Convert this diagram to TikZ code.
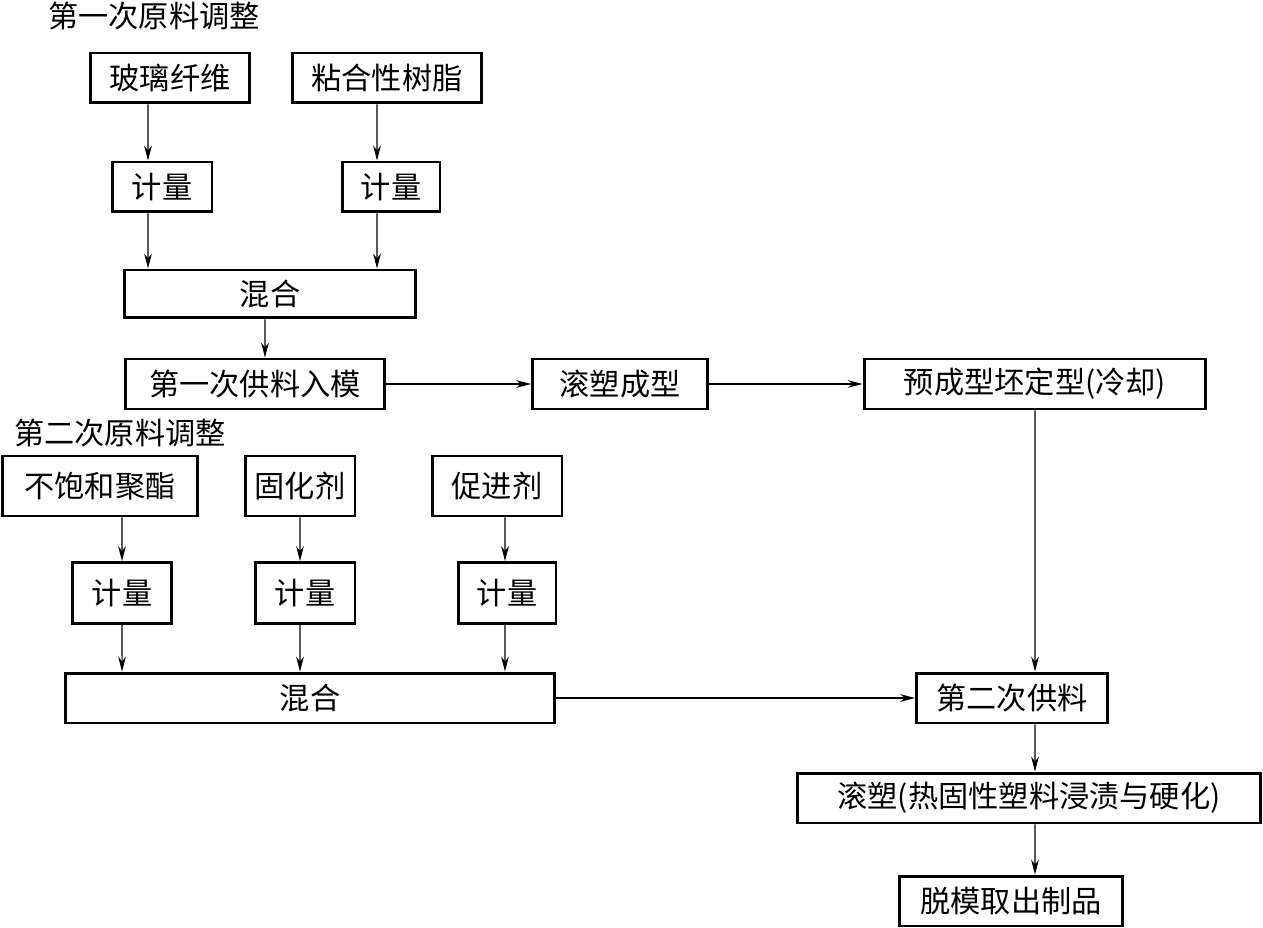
\documentclass[tikz,border=0pt]{standalone}
\usepackage{fontspec}
\setmainfont{Noto Sans CJK SC}
\usetikzlibrary{arrows.meta}

\begin{document}
\begin{tikzpicture}[x=0.02cm,y=-0.02cm,
	box/.style={ draw, line width=1.7pt, inner sep=0pt, minimum height=1.0cm, font=\fontsize{17.2}{20}\selectfont },
	title/.style={ inner sep=0pt, font=\fontsize{17.2}{20}\selectfont },
	arr/.style={ -{Stealth[length=8.5pt,width=4.4pt]}, line width=0.6pt }
]
\useasboundingbox (0,0) rectangle (1263,928);

% first material adjustment
\node at (154,16) (title1) [title] {第一次原料调整};
\node at (170,78) (fiber) [box,minimum width=3.2cm] {玻璃纤维};
\node at (387,78) (resin) [box,minimum width=3.8cm] {粘合性树脂};
\node at (162,187) (meter1) [box,minimum width=2cm] {计量};
\node at (391,187) (meter2) [box,minimum width=1.96cm] {计量};
\node at (270,294) (mix1) [box,minimum width=5.82cm,minimum height=0.96cm] {混合};
\node at (255,384) (feed1) [box,minimum width=5.2cm] {第一次供料入模};
\node at (620,384) (roll1) [box,minimum width=3.5cm] {滚塑成型};
\node at (1035,384) (preform) [box,minimum width=6.84cm] {预成型坯定型(冷却)};

\draw[arr] ([xshift=-0.44cm]fiber.south) -- ([xshift=-0.28cm]meter1.north);
\draw[arr] ([xshift=-0.2cm]resin.south) -- ([xshift=-0.28cm]meter2.north);
\draw[arr] ([xshift=-0.28cm]meter1.south) -- ([xshift=-2.44cm]mix1.north);
\draw[arr] ([xshift=-0.28cm]meter2.south) -- ([xshift=2.14cm]mix1.north);
\draw[arr] ([xshift=-0.1cm]mix1.south) -- ([xshift=0.2cm]feed1.north);
\draw[arr] (feed1.east) -- (roll1.west);
\draw[arr] (roll1.east) -- (preform.west);

% second material adjustment
\node at (120,433) (title2) [title] {第二次原料调整};
\node at (100,486) (polyester) [box,minimum width=3.9cm,minimum height=1.2cm] {不饱和聚酯};
\node at (300,486) (curing) [box,minimum width=2.2cm,minimum height=1.2cm] {固化剂};
\node at (497,486) (accel) [box,minimum width=2.6cm,minimum height=1.2cm] {促进剂};
\node at (122,593) (meter3) [box,minimum width=1.98cm,minimum height=1.22cm] {计量};
\node at (305,593) (meter4) [box,minimum width=2cm,minimum height=1.22cm] {计量};
\node at (507,593) (meter5) [box,minimum width=1.96cm,minimum height=1.22cm] {计量};
\node at (310,698) (mix2) [box,minimum width=9.8cm] {混合};
\node at (1012,698) (feed2) [box,minimum width=3.82cm] {第二次供料};
\node at (1029,798) (roll2) [box,minimum width=9.26cm] {滚塑(热固性塑料浸渍与硬化)};
\node at (1011,901) (demould) [box,minimum width=4.46cm] {脱模取出制品};

\draw[arr] ([xshift=0.44cm]polyester.south) -- (meter3.north);
\draw[arr] (curing.south) -- ([xshift=-0.1cm]meter4.north);
\draw[arr] ([xshift=0.16cm]accel.south) -- ([xshift=-0.04cm]meter5.north);
\draw[arr] (meter3.south) -- ([xshift=-3.76cm]mix2.north);
\draw[arr] ([xshift=-0.1cm]meter4.south) -- ([xshift=-0.2cm]mix2.north);
\draw[arr] ([xshift=-0.04cm]meter5.south) -- ([xshift=3.9cm]mix2.north);
\draw[arr] (mix2.east) -- (feed2.west);
\draw[arr] (preform.south) -- ([xshift=0.46cm]feed2.north);
\draw[arr] ([xshift=0.46cm]feed2.south) -- ([xshift=0.12cm]roll2.north);
\draw[arr] ([xshift=0.12cm]roll2.south) -- ([xshift=0.48cm]demould.north);

\end{tikzpicture}
\end{document}
